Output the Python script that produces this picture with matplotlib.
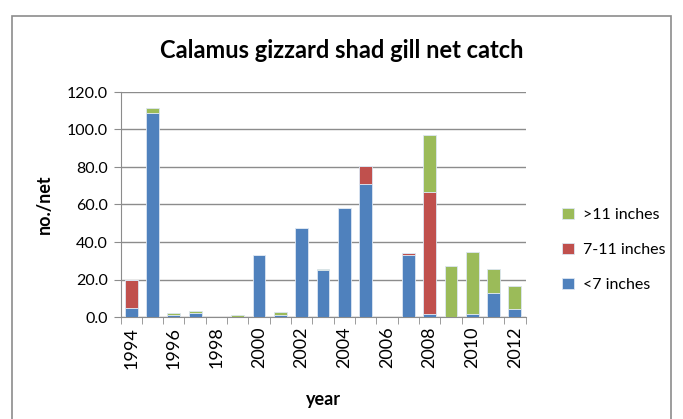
import numpy as np
import matplotlib.pyplot as plt
from matplotlib.patches import Rectangle

plt.rcParams["font.family"] = ["Lato", "DejaVu Sans"]

years = list(range(1994, 2013))
# catch per net by length class
small = [5.0, 109.0, 1.0, 2.0, 0.0, 0.0, 33.3, 1.2, 47.6, 25.3, 58.0, 71.1, 0.0, 33.2, 1.8, 0.0, 1.7, 12.6, 4.4]
mid = [14.7, 0.0, 0.0, 0.0, 0.0, 0.0, 0.0, 0.0, 0.0, 0.0, 0.0, 9.3, 0.0, 0.8, 64.7, 0.0, 0.0, 0.0, 0.0]
large = [0.0, 2.3, 1.1, 1.3, 0.0, 0.9, 0.0, 1.6, 0.0, 0.4, 0.0, 0.0, 0.0, 0.0, 30.5, 27.4, 32.8, 13.0, 12.0]
labels = ["<7 inches", "7-11 inches", ">11 inches"]
colors = ["#4F81BD", "#C0504D", "#9BBB59"]

W, H = 683, 419
fig = plt.figure(figsize=(W / 100, H / 100), dpi=100)
ax = fig.add_axes([120.5 / W, 1 - 317 / H, 405 / W, 225 / H])

x = np.arange(len(years))
bottom = np.zeros(len(years))
handles = []
for vals, lab, col in zip([small, mid, large], labels, colors):
    b = ax.bar(x, vals, 0.6, bottom=bottom, color=col, edgecolor="#dce6f2", linewidth=0.6, label=lab, zorder=3)
    handles.append(b)
    bottom += np.array(vals)

ax.set_xlim(-0.5, len(years) - 0.5)
ax.set_ylim(0, 120)
ax.set_yticks(np.arange(0, 121, 20))
ax.set_yticklabels(["%.1f" % v for v in np.arange(0, 121, 20)], fontsize=11.5)
ax.yaxis.grid(True, color="#8c8c8c", linewidth=1)
ax.set_axisbelow(True)

ax.set_xticks(x[::2])
ax.set_xticklabels([str(y) for y in years[::2]], rotation=90, fontsize=13)
ax.set_xticks(np.arange(-0.5, len(years)), minor=True)
ax.tick_params(axis="x", which="major", length=0, pad=7)
ax.tick_params(axis="x", which="minor", length=5, color="#8c8c8c")
ax.tick_params(axis="y", length=5, color="#8c8c8c", pad=4)

for s in ["top", "right"]:
    ax.spines[s].set_visible(False)
ax.spines["left"].set_color("#8c8c8c")
ax.spines["bottom"].set_color("#8c8c8c")

ax.set_ylabel("no./net", fontsize=13, fontweight="bold", labelpad=10)
ax.set_xlabel("year", fontsize=13, fontweight="bold", labelpad=16)
fig.text(342 / W, 1 - 50 / H, "Calamus gizzard shad gill net catch", ha="center", va="center",
         fontsize=17, fontweight="bold")

fig.legend(handles[::-1], labels[::-1], loc="center left", bbox_to_anchor=(548 / W, 1 - 250 / H),
           frameon=False, fontsize=11.5, handlelength=0.7, handleheight=0.7, labelspacing=1.3, handletextpad=0.6)

fig.patches.append(Rectangle((12 / W, -0.01), 659 / W, 1 - 16 / H + 0.01, transform=fig.transFigure,
                             fill=False, edgecolor="#8c8c8c", linewidth=1.2))

fig.savefig("out.png", dpi=100)
